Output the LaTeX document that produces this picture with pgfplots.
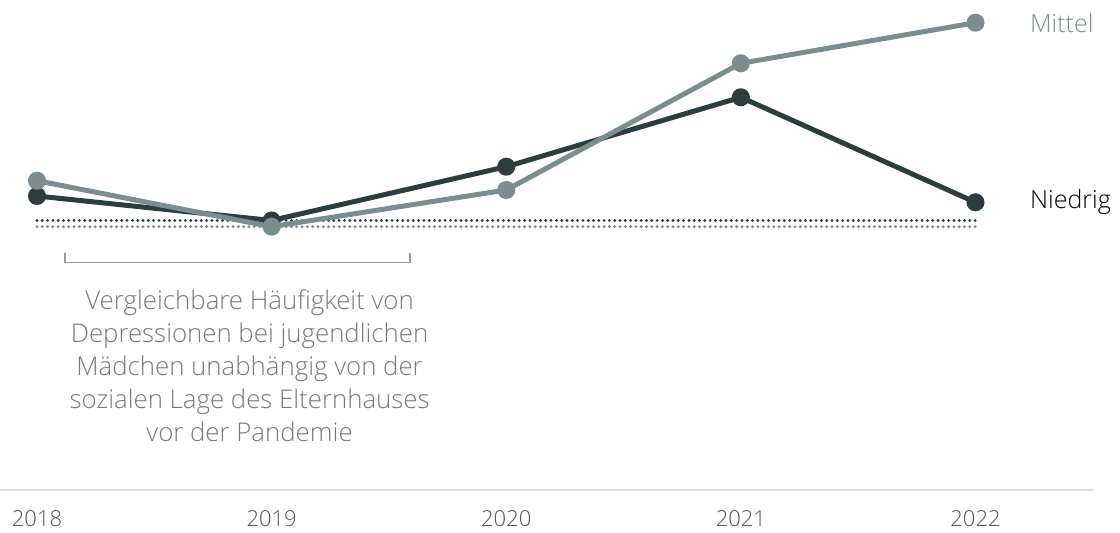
\documentclass[border=0pt]{standalone}
\usepackage{fontspec}
\setmainfont{Open Sans}[UprightFont=* Light]
\usepackage{pgfplots}
\pgfplotsset{compat=1.18}
\definecolor{mittel}{HTML}{7B8D8E}
\definecolor{niedrig}{HTML}{2C3D3E}
\definecolor{annot}{HTML}{7A7A7A}
\definecolor{ticklab}{HTML}{555555}
\definecolor{baseln}{HTML}{DDDDDD}
\definecolor{brack}{HTML}{9A9A9A}
\begin{document}
\begin{tikzpicture}
\useasboundingbox (0,0) rectangle (1120pt,533pt);
\begin{axis}[
  at={(37pt,43pt)}, anchor=south west,
  scale only axis, width=938.5pt, height=490pt,
  xmin=2018, xmax=2022, ymin=0, ymax=490,
  clip=false,
  hide y axis,
  axis x line*=bottom,
  x axis line style={draw=none},
  major tick length=0pt,
  xtick={2018,2019,2020,2021,2022},
  xticklabels={2018,2019,2020,2021,2022},
  xticklabel style={anchor=base, yshift=-37pt, font=\fontsize{22}{26}\selectfont, text=ticklab},
  /pgf/number format/assume math mode=true,
]
% baseline
\draw[baseln, line width=2pt] (axis cs:2017.842,0) -- (axis cs:2022.5,0);
% dotted reference lines (2019 levels)
\addplot[niedrig, line width=3.2pt, dash pattern=on 0pt off 5.3pt, line cap=round, mark=none] coordinates {(2018,269.5) (2022,269.5)};
\addplot[mittel, line width=3.2pt, dash pattern=on 0pt off 5.3pt, line cap=round, mark=none] coordinates {(2018,263.3) (2022,263.3)};
% Niedrig
\addplot[niedrig, line width=5pt, mark=*, mark size=6.5pt, mark options={fill=niedrig, draw=none}]
  coordinates {(2018,294) (2019,269.5) (2020,323.3) (2021,392.7) (2022,287.7)};
% Mittel
\addplot[mittel, line width=5pt, mark=*, mark size=6.5pt, mark options={fill=mittel, draw=none}]
  coordinates {(2018,309.3) (2019,263.3) (2020,300) (2021,426.7) (2022,467.3)};
% labels
\node[anchor=west, inner sep=0pt, text=mittel, font=\fontsize{25}{30}\selectfont] at (axis cs:2022.232,467.3) {Mittel};
\node[anchor=west, inner sep=0pt, text=black, font=\fontsize{25}{30}\selectfont] at (axis cs:2022.232,287.7) {Niedrig};
% bracket
\draw[brack, line width=1.3pt] (axis cs:2018.1193,237) -- (axis cs:2018.1193,227.3) -- (axis cs:2019.5897,227.3) -- (axis cs:2019.5897,237);
% annotation
\node[anchor=center, align=center, inner sep=0pt, text=annot, font=\fontsize{25.8}{33}\selectfont] at (axis cs:2018.906,124) {Vergleichbare Häufigkeit von\\Depressionen bei jugendlichen\\Mädchen unabhängig von der\\sozialen Lage des Elternhauses\\vor der Pandemie};
\end{axis}
\end{tikzpicture}
\end{document}
